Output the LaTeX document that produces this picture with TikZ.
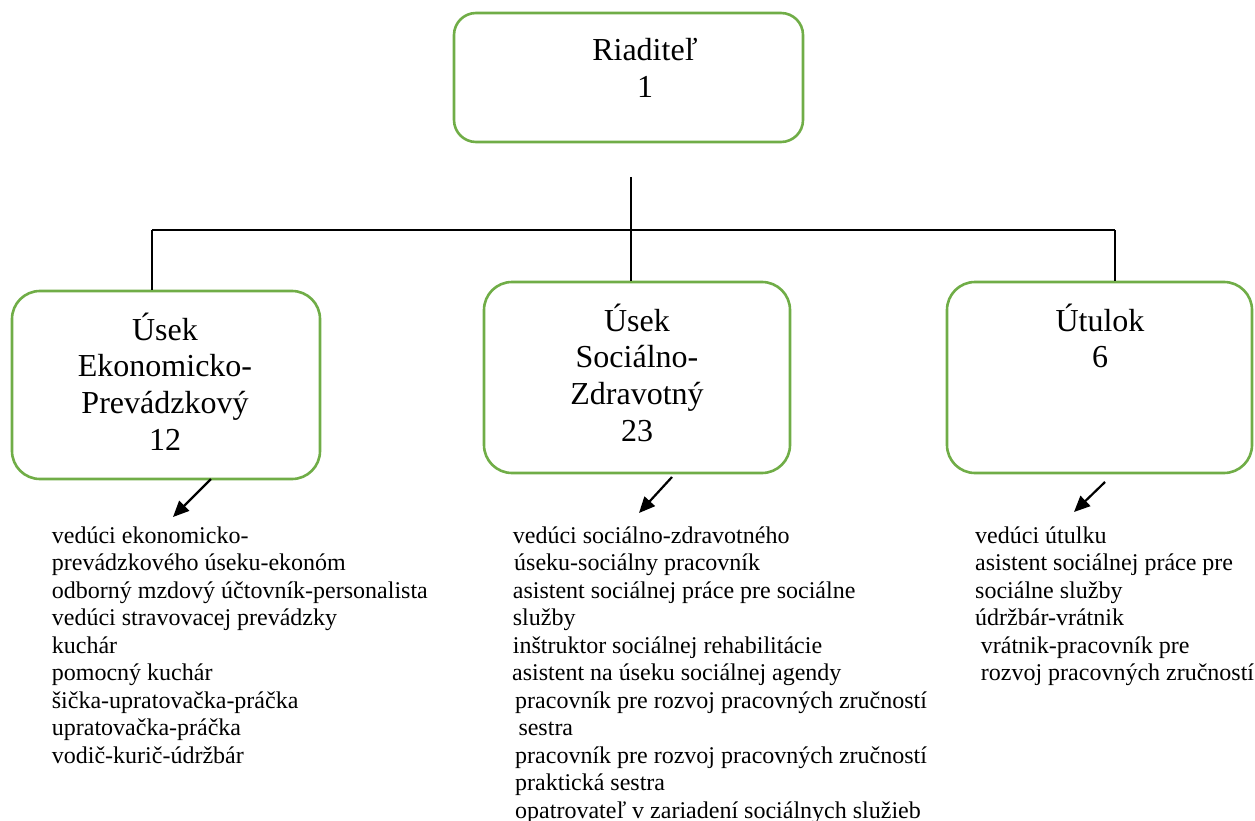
\documentclass[tikz,border=0pt]{standalone}
\usepackage{fontspec}
\setmainfont{Liberation Serif}
\usetikzlibrary{arrows.meta}
\definecolor{boxgreen}{HTML}{70AD47}
\tikzset{
  orgbox/.style={draw=boxgreen, line width=2.6pt, rounded corners=28pt, rectangle, inner sep=0pt},
  boxtext/.style={inner sep=0pt, anchor=base, font=\fontsize{32}{36.7}\selectfont},
  listtext/.style={inner sep=0pt, anchor=base west, font=\fontsize{24}{27.5}\selectfont},
  bus/.style={draw=black, line width=1.3pt},
  pointer/.style={draw=black, line width=2.2pt, -{Triangle[length=16pt,width=14pt]}}
}
\begin{document}
\begin{tikzpicture}[x=1pt,y=-1pt]
\useasboundingbox (0,0) rectangle (1255,821);
% boxes
\node[orgbox, rounded corners=22pt, minimum width=349pt, minimum height=129pt] (dir) at (628.5,77.5) {};
\node[orgbox, minimum width=308pt, minimum height=188pt] (eko) at (166,385) {};
\node[orgbox, minimum width=306pt, minimum height=191pt] (soc) at (637,377.5) {};
\node[orgbox, minimum width=305pt, minimum height=191pt] (utu) at (1099.5,377.5) {};
% box texts
\node[boxtext] (dirT) at (645,60.7) {\begin{tabular}[t]{@{}c@{}}Riaditeľ\\1\end{tabular}};
\node[boxtext] (ekoT) at (165,340) {\begin{tabular}[t]{@{}c@{}}Úsek\\Ekonomicko-\\Prevádzkový\\12\end{tabular}};
\node[boxtext] (socT) at (637,331) {\begin{tabular}[t]{@{}c@{}}Úsek\\Sociálno-\\Zdravotný\\23\end{tabular}};
\node[boxtext] (utuT) at (1100,331) {\begin{tabular}[t]{@{}c@{}}Útulok\\6\end{tabular}};
% bus connectors
\coordinate (dirS) at (631,177);
\coordinate (busM) at (631,230);
\coordinate (busL) at (152,230);
\coordinate (busR) at (1115,230);
\draw[bus] (dirS) -- (busM);
\draw[bus] (busL) -- (busR);
\draw[bus] (busL) -- (busL |- eko.north);
\draw[bus] (busM) -- (busM |- soc.north);
\draw[bus] (busR) -- (busR |- utu.north);
% lists
\node[listtext] (ekoL) at (51.7,543) {\begin{tabular}[t]{@{}l@{}}vedúci ekonomicko-\\prevádzkového úseku-ekonóm\\odborný mzdový účtovník-personalista\\vedúci stravovacej prevádzky\\kuchár\\pomocný kuchár\\šička-upratovačka-práčka\\upratovačka-práčka\\vodič-kurič-údržbár\end{tabular}};
\node[listtext] (socL) at (512,543) {\begin{tabular}[t]{@{}l@{}}\hspace*{0.7pt}vedúci sociálno-zdravotného\\\hspace*{2pt}úseku-sociálny pracovník\\\hspace*{0.7pt}asistent sociálnej práce pre sociálne\\\hspace*{0.7pt}služby\\\hspace*{0.7pt}inštruktor sociálnej rehabilitácie\\asistent na úseku sociálnej agendy\\\hspace*{3pt}pracovník pre rozvoj pracovných zručností\\\hspace*{6.3pt}sestra\\\hspace*{3pt}pracovník pre rozvoj pracovných zručností\\\hspace*{3pt}praktická sestra\\\hspace*{3pt}opatrovateľ v zariadení sociálnych služieb\end{tabular}};
\node[listtext] (utuL) at (975,543) {\begin{tabular}[t]{@{}l@{}}vedúci útulku\\asistent sociálnej práce pre\\sociálne služby\\údržbár-vrátnik\\\hspace*{5.7pt}vrátnik-pracovník pre\\\hspace*{5.7pt}rozvoj pracovných zručností\end{tabular}};
% arrows
\coordinate (ekoA) at (211,479);
\coordinate (ekoB) at (173,517);
\coordinate (socA) at (672,477);
\coordinate (socB) at (639,513);
\coordinate (utuA) at (1105,482);
\coordinate (utuB) at (1074,512);
\draw[pointer] (ekoA) -- (ekoB);
\draw[pointer] (socA) -- (socB);
\draw[pointer] (utuA) -- (utuB);
\end{tikzpicture}
\end{document}
